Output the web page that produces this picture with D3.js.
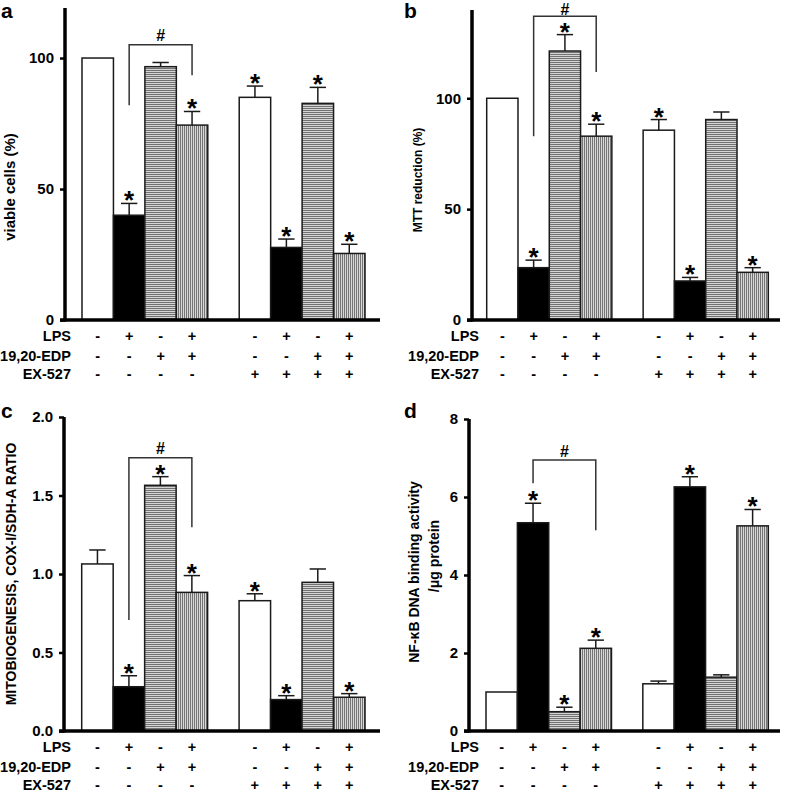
<!DOCTYPE html>
<html>
<head>
<meta charset="utf-8">
<script src="https://cdn.jsdelivr.net/npm/d3@7"></script>
<style>
html, body { margin: 0; padding: 0; background: #fff; }
svg { display: block; }
text { font-family: "Liberation Sans", Arial, Helvetica, sans-serif; font-weight: bold; fill: #000; }
</style>
</head>
<body>
<svg id="chart" width="787" height="792"></svg>
<script>
// ---------- data ----------
const conditions = ["c1", "c2", "c3", "c4", "c5", "c6", "c7", "c8"];
const slotIndex = [0, 1, 2, 3, 5, 6, 7, 8];           // 4th slot is the gap between groups
const fills = ["white", "black", "hatchH", "hatchV", "white", "black", "hatchH", "hatchV"];
const rowLabels = ["LPS", "19,20-EDP", "EX-527"];
const lpsSigns = ["-", "+", "-", "+", "-", "+", "-", "+"];
const edpSigns = ["-", "-", "+", "+", "-", "-", "+", "+"];
const exSigns  = ["-", "-", "-", "-", "+", "+", "+", "+"];

const valuesA = [100, 40, 96.7, 74.4, 85, 27.7, 82.7, 25.4];
const errorsA = [0, 4.5, 1.6, 5.2, 4.3, 3.2, 6.1, 3.5];
const starsA  = [0, 1, 0, 1, 1, 1, 1, 1];
const ticksA  = [0, 50, 100];

const valuesB = [100, 23.6, 121.3, 82.9, 85.6, 17.6, 90.4, 21.5];
const errorsB = [0, 3.4, 7.4, 5.4, 4.8, 1.6, 3.4, 2.1];
const starsB  = [0, 1, 1, 1, 1, 1, 0, 1];
const ticksB  = [0, 50, 100];

const valuesC = [1.064, 0.282, 1.565, 0.883, 0.83, 0.2, 0.947, 0.215];
const errorsC = [0.089, 0.07, 0.055, 0.107, 0.044, 0.025, 0.085, 0.023];
const starsC  = [0, 1, 1, 1, 1, 1, 0, 1];
const ticksC  = [0, 0.5, 1.0, 1.5, 2.0];

const valuesD = [1.0, 5.34, 0.495, 2.12, 1.21, 6.26, 1.38, 5.26];
const errorsD = [0, 0.5, 0.115, 0.21, 0.07, 0.26, 0.06, 0.42];
const starsD  = [0, 1, 1, 1, 0, 1, 0, 1];
const ticksD  = [0, 2, 4, 6, 8];

// bracket: [from bar, to bar, top value, left leg end value, right leg end value]
const bracketA = [1, 3, 105.1, 82, 93.4];
const bracketB = [1, 3, 137, 82.9, 111.8];
const bracketC = [1, 3, 1.741, 0.707, 1.297];
const bracketD = [1, 3, 6.95, 6.35, 5.15];

// ---------- drawing ----------
const svg = d3.select("#chart");
const defs = svg.append("defs");
const ph = defs.append("pattern").attr("id", "hatchH").attr("patternUnits", "userSpaceOnUse")
  .attr("width", 4).attr("height", 2);
ph.append("rect").attr("width", 4).attr("height", 2).attr("fill", "#d4d4d4");
ph.append("rect").attr("width", 4).attr("height", 1).attr("fill", "#727272");
const pv = defs.append("pattern").attr("id", "hatchV").attr("patternUnits", "userSpaceOnUse")
  .attr("width", 2).attr("height", 4);
pv.append("rect").attr("width", 2).attr("height", 4).attr("fill", "#d8d8d8");
pv.append("rect").attr("width", 1).attr("height", 4).attr("fill", "#747474");

const fillOf = f => f === "white" ? "#fff" : f === "black" ? "#000" : `url(#${f})`;

function drawPanel(p) {
  const g = svg.append("g");
  const y = d3.scaleLinear().domain([0, p.yMax]).range([p.base, p.top]);
  const x = d3.scaleBand().domain(d3.range(9)).range([p.barStart, p.barEnd]).padding(0);
  const bw = x.bandwidth();
  const cx = i => x(slotIndex[i]) + bw / 2;

  // bars
  g.selectAll("rect.bar").data(p.values).join("rect")
    .attr("class", "bar")
    .attr("x", (d, i) => x(slotIndex[i]))
    .attr("y", d => y(d))
    .attr("width", bw)
    .attr("height", d => p.base - y(d))
    .attr("fill", (d, i) => fillOf(fills[i]))
    .attr("stroke", "#1a1a1a").attr("stroke-width", 1.5);

  // error bars (upper only)
  p.values.forEach((v, i) => {
    const e = p.errors[i];
    if (e > 0) {
      g.append("line").attr("x1", cx(i)).attr("x2", cx(i))
        .attr("y1", y(v)).attr("y2", y(v + e))
        .attr("stroke", "#1a1a1a").attr("stroke-width", 1.5);
      g.append("line").attr("x1", cx(i) - bw * 0.26).attr("x2", cx(i) + bw * 0.26)
        .attr("y1", y(v + e)).attr("y2", y(v + e))
        .attr("stroke", "#1a1a1a").attr("stroke-width", 1.5);
    }
    if (p.stars[i]) {
      g.append("text").attr("x", cx(i)).attr("y", y(v + e) + 6)
        .attr("text-anchor", "middle").attr("font-size", 26).text("*");
    }
  });

  // bracket
  const [b1, b2, bt, bl, br] = p.bracket;
  g.append("path")
    .attr("d", `M${cx(b1)},${y(bl)}V${y(bt)}H${cx(b2)}V${y(br)}`)
    .attr("fill", "none").attr("stroke", "#333").attr("stroke-width", 1.5);
  g.append("text").attr("x", (cx(b1) + cx(b2)) / 2).attr("y", y(bt) - p.hashGap)
    .attr("text-anchor", "middle").attr("font-size", 16).text("#");

  // axes
  const yAxis = d3.axisLeft(y).tickValues(p.ticks).tickSize(5).tickPadding(6)
    .tickFormat(p.fmt);
  const ya = g.append("g").attr("transform", `translate(${p.axisX},0)`).call(yAxis);
  ya.select(".domain").remove();
  ya.selectAll(".tick line").attr("stroke", "#000").attr("stroke-width", 2.5);
  ya.selectAll(".tick text").attr("font-size", 15).attr("font-weight", "bold")
    .attr("font-family", "Liberation Sans, Arial, sans-serif").attr("fill", "#000");
  g.append("line").attr("x1", p.axisX).attr("x2", p.axisX)
    .attr("y1", p.top).attr("y2", p.base + 1.5)
    .attr("stroke", "#000").attr("stroke-width", 3.5);
  g.append("line").attr("x1", p.axisX - 5).attr("x2", p.xEnd)
    .attr("y1", p.base).attr("y2", p.base)
    .attr("stroke", "#000").attr("stroke-width", 3.5);

  // condition table
  const rows = [lpsSigns, edpSigns, exSigns];
  const rowOff = [21, 40.5, 58.5];
  rows.forEach((signs, r) => {
    g.append("text").attr("x", p.labelRight).attr("y", p.base + rowOff[r])
      .attr("text-anchor", "end").attr("font-size", 14.5).text(rowLabels[r]);
    g.selectAll(null).data(signs).join("text")
      .attr("x", (d, i) => cx(i)).attr("y", p.base + rowOff[r])
      .attr("text-anchor", "middle").attr("font-size", 14.5).text(d => d);
  });

  // y label
  p.ylabel.forEach((t, k) => {
    g.append("text")
      .attr("transform", `translate(${p.ylabelX[k]},${p.ylabelY[k]}) rotate(-90)`)
      .attr("text-anchor", "middle").attr("font-size", p.ylabelSize).text(t);
  });

  // panel letter
  g.append("text").attr("x", p.letterX).attr("y", p.letterY)
    .attr("font-size", 21).text(p.letter);
}

const fmtInt = d3.format("d");
const fmt1 = d3.format(".1f");

drawPanel({ letter: "a", letterX: 1, letterY: 18, values: valuesA, errors: errorsA, stars: starsA,
  ticks: ticksA, fmt: fmtInt, yMax: 119.1, base: 320, top: 8, axisX: 65, xEnd: 380,
  barStart: 82, barEnd: 365, bracket: bracketA, hashGap: 3.5, labelRight: 71,
  ylabel: ["viable cells (%)"], ylabelX: [15], ylabelY: [187], ylabelSize: 15 });

drawPanel({ letter: "b", letterX: 404, letterY: 18, values: valuesB, errors: errorsB, stars: starsB,
  ticks: ticksB, fmt: fmtInt, yMax: 139.8, base: 320, top: 10, axisX: 472, xEnd: 780,
  barStart: 486.7, barEnd: 768.3, bracket: bracketB, hashGap: 1, labelRight: 479,
  ylabel: ["MTT reduction (%)"], ylabelX: [422], ylabelY: [180], ylabelSize: 12 });

drawPanel({ letter: "c", letterX: 1, letterY: 418, values: valuesC, errors: errorsC, stars: starsC,
  ticks: ticksC, fmt: fmt1, yMax: 2.0, base: 731, top: 417, axisX: 64, xEnd: 380,
  barStart: 81.7, barEnd: 365, bracket: bracketC, hashGap: 3.5, labelRight: 71,
  ylabel: ["MITOBIOGENESIS, COX-I/SDH-A RATIO"], ylabelX: [16], ylabelY: [574], ylabelSize: 14 });

drawPanel({ letter: "d", letterX: 404, letterY: 418, values: valuesD, errors: errorsD, stars: starsD,
  ticks: ticksD, fmt: fmtInt, yMax: 8, base: 731, top: 419, axisX: 469, xEnd: 780,
  barStart: 486, barEnd: 768.3, bracket: bracketD, hashGap: 2.5, labelRight: 479,
  ylabel: ["NF-\u03BAB DNA binding activity", "/\u03BCg protein"], ylabelX: [419, 439], ylabelY: [572, 556], ylabelSize: 14 });
</script>
</body>
</html>
